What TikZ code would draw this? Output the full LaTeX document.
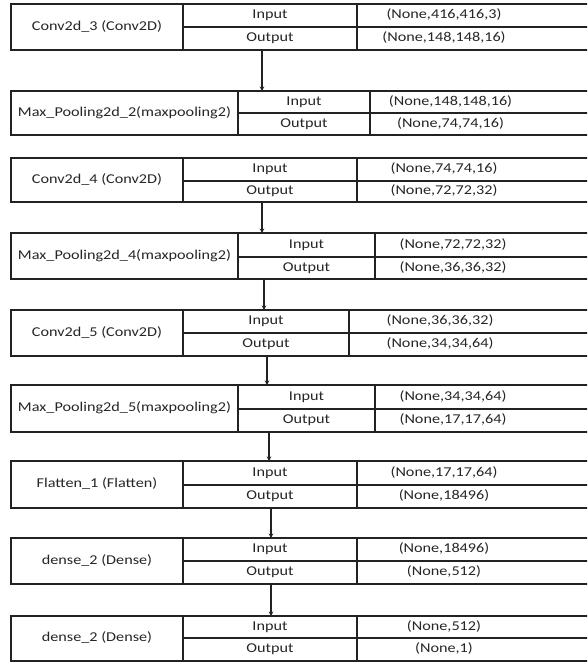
\documentclass[tikz,border=0pt]{standalone}
\usepackage{fontspec}
\setmainfont{Carlito}[FakeStretch=1.2]
\usetikzlibrary{arrows.meta}
\definecolor{ink}{HTML}{222222}
\definecolor{txtc}{HTML}{262626}
\tikzset{
  boxline/.style={draw=ink, line width=1.2pt},
  txt/.style={text=txtc, inner sep=0pt, text height=9pt, text depth=2.5pt, font=\fontsize{13.5}{16}\selectfont},
  arr/.style={draw=ink, line width=1.1pt, -{Stealth[length=4.5pt,width=4.5pt]}}
}
% #1 name, #2 top, #3 mid, #4 bottom, #5 col1, #6 col2, #7 label, #8 input shape, #9 output shape
\newcommand\layerbox[9]{%
  \draw[boxline] (11,#2) rectangle (600,#4);
  \draw[boxline] (#5,#2) -- (#5,#4) (#6,#2) -- (#6,#4) (#5,#3) -- (600,#3);
  \coordinate (#1-top) at (11,#2);
  \coordinate (#1-bot) at (11,#4);
  \node[txt] (#1-name) at ({(11+#5)/2},{(#2+#4)/2}) {#7};
  \node[txt] (#1-in) at ({(#5+#6)/2},{(#2+#3)/2}) {Input};
  \node[txt] (#1-out) at ({(#5+#6)/2},{(#3+#4)/2}) {Output};
  \node[txt] (#1-ins) at ({(#6+531)/2},{(#2+#3)/2}) {#8};
  \node[txt] (#1-outs) at ({(#6+531)/2},{(#3+#4)/2}) {#9};
}
\begin{document}
\begin{tikzpicture}[x=1pt,y=-1pt]
\useasboundingbox (0,0) rectangle (587,664);
\clip (0,0) rectangle (587,664);
\fill[white] (0,0) rectangle (587,664);
\layerbox{b1}{4}{27}{50}{183}{357}{Conv2d\_3 (Conv2D)}{(None,416,416,3)}{(None,148,148,16)}
\layerbox{b2}{91}{113}{135}{238}{370}{Max\_Pooling2d\_2(maxpooling2)}{(None,148,148,16)}{(None,74,74,16)}
\layerbox{b3}{158}{181}{202}{183}{357}{Conv2d\_4 (Conv2D)}{(None,74,74,16)}{(None,72,72,32)}
\layerbox{b4}{233}{257}{279}{238}{375}{Max\_Pooling2d\_4(maxpooling2)}{(None,72,72,32)}{(None,36,36,32)}
\layerbox{b5}{310}{333}{356}{183}{349}{Conv2d\_5 (Conv2D)}{(None,36,36,32)}{(None,34,34,64)}
\layerbox{b6}{385}{409}{432}{238}{375}{Max\_Pooling2d\_5(maxpooling2)}{(None,34,34,64)}{(None,17,17,64)}
\layerbox{b7}{461}{485}{508}{183}{357}{Flatten\_1 (Flatten)}{(None,17,17,64)}{(None,18496)}
\layerbox{b8}{538}{561}{584}{183}{357}{dense\_2 (Dense)}{(None,18496)}{(None,512)}
\layerbox{b9}{616}{638}{661}{183}{357}{dense\_2 (Dense)}{(None,512)}{(None,1)}
\coordinate (s1) at (262,50);
\coordinate (s2) at (262,202);
\coordinate (s3) at (264,279);
\coordinate (s4) at (267,356);
\coordinate (s5) at (269,432);
\coordinate (s6) at (271,508);
\coordinate (s7) at (271,584);
\draw[arr] (s1) -- (s1 |- b2-top);
\draw[arr] (s2) -- (s2 |- b4-top);
\draw[arr] (s3) -- (s3 |- b5-top);
\draw[arr] (s4) -- (s4 |- b6-top);
\draw[arr] (s5) -- (s5 |- b7-top);
\draw[arr] (s6) -- (s6 |- b8-top);
\draw[arr] (s7) -- (s7 |- b9-top);
\end{tikzpicture}
\end{document}
